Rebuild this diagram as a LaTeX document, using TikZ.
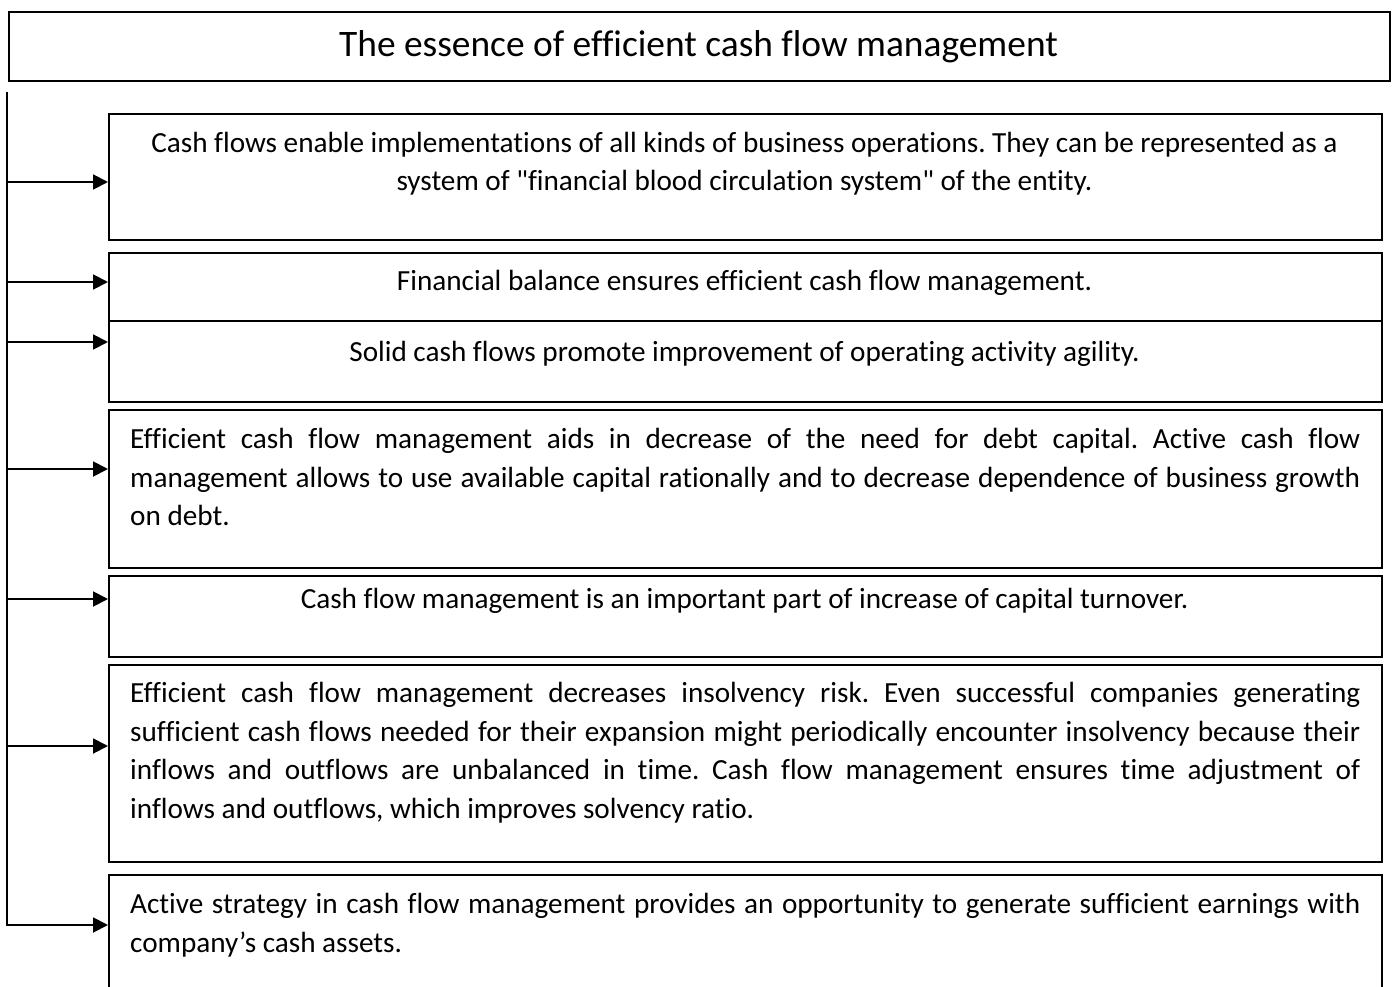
\documentclass[tikz,border=0pt]{standalone}
\usepackage{fontspec}
\setmainfont{Carlito}[Ligatures={NoCommon}]
\usetikzlibrary{arrows.meta}
\begin{document}
\begin{tikzpicture}[x=1pt,y=-1pt,
  box/.style={draw,line width=1.9pt,inner sep=0pt,minimum width=1273pt,anchor=north west},
  txt/.style={inner sep=0pt,font=\fontsize{29.2}{38.5}\selectfont\frenchspacing},
  ctxt/.style={txt,anchor=base,align=center},
  jtxt/.style={txt,anchor=base west,text width=1230pt,align=justify},
  arr/.style={line width=1.9pt,-{Triangle[length=15pt,width=15pt]}}]
\useasboundingbox (0,0) rectangle (1394,987);
% title
\node[draw,line width=1.9pt,inner sep=0pt,minimum width=1381pt,minimum height=69pt,anchor=north west] (title) at (8,11) {};
\node[inner sep=0pt,font=\fontsize{37.4}{44}\selectfont] (titletext) at (698.5,47) {The essence of efficient cash flow management};
% boxes
\node[box,minimum height=126pt] (b1) at (108,113) {};
\node[box,minimum height=68pt] (b2) at (108,252) {};
\node[box,minimum height=81pt] (b3) at (108,320) {};
\node[box,minimum height=158pt] (b4) at (108,409) {};
\node[box,minimum height=81pt] (b5) at (108,575) {};
\node[box,minimum height=197pt] (b6) at (108,664) {};
\node[box,minimum height=140pt] (b7) at (108,874) {};
% texts
\node[ctxt] (t1) at (744.5,191) {Cash flows enable implementations of all kinds of business operations. They can be represented as a\\system of \textquotedbl{}financial blood circulation system\textquotedbl{} of the entity.};
\node[ctxt] (t2) at (744.5,290.5) {Financial balance ensures efficient cash flow management.};
\node[ctxt] (t3) at (744.5,361.5) {Solid cash flows promote improvement of operating activity agility.};
\node[jtxt] (t4) at (130,448.5) {\makebox[1230pt][s]{Efficient cash flow management aids in decrease of the need for debt capital. Active cash flow}\\
\makebox[1230pt][s]{management allows to use available capital rationally and to decrease dependence of business growth}\\
on debt.};
\node[ctxt] (t5) at (744.5,608.5) {Cash flow management is an important part of increase of capital turnover.};
\node[jtxt] (t6) at (130,702.5) {\makebox[1230pt][s]{Efficient cash flow management decreases insolvency risk. Even successful companies generating}\\
\makebox[1230pt][s]{sufficient cash flows needed for their expansion might periodically encounter insolvency because their}\\
\makebox[1230pt][s]{inflows and outflows are unbalanced in time. Cash flow management ensures time adjustment of}\\
inflows and outflows, which improves solvency ratio.};
\node[jtxt] (t7) at (130,913.5) {\makebox[1230pt][s]{Active strategy in cash flow management provides an opportunity to generate sufficient earnings with}\\
company’s cash assets.};
% spine
\coordinate (top) at (7,92);
\coordinate (s1) at (7,182);
\coordinate (s2) at (7,282);
\coordinate (s3) at (7,342);
\coordinate (s4) at (7,469);
\coordinate (s5) at (7,599);
\coordinate (s6) at (7,746);
\coordinate (s7) at (7,925);
\draw[arr] (top) -- (s7) -- (s7 -| b7.west);
\draw[arr] (s1) -- (s1 -| b1.west);
\draw[arr] (s2) -- (s2 -| b2.west);
\draw[arr] (s3) -- (s3 -| b3.west);
\draw[arr] (s4) -- (s4 -| b4.west);
\draw[arr] (s5) -- (s5 -| b5.west);
\draw[arr] (s6) -- (s6 -| b6.west);
\end{tikzpicture}
\end{document}
